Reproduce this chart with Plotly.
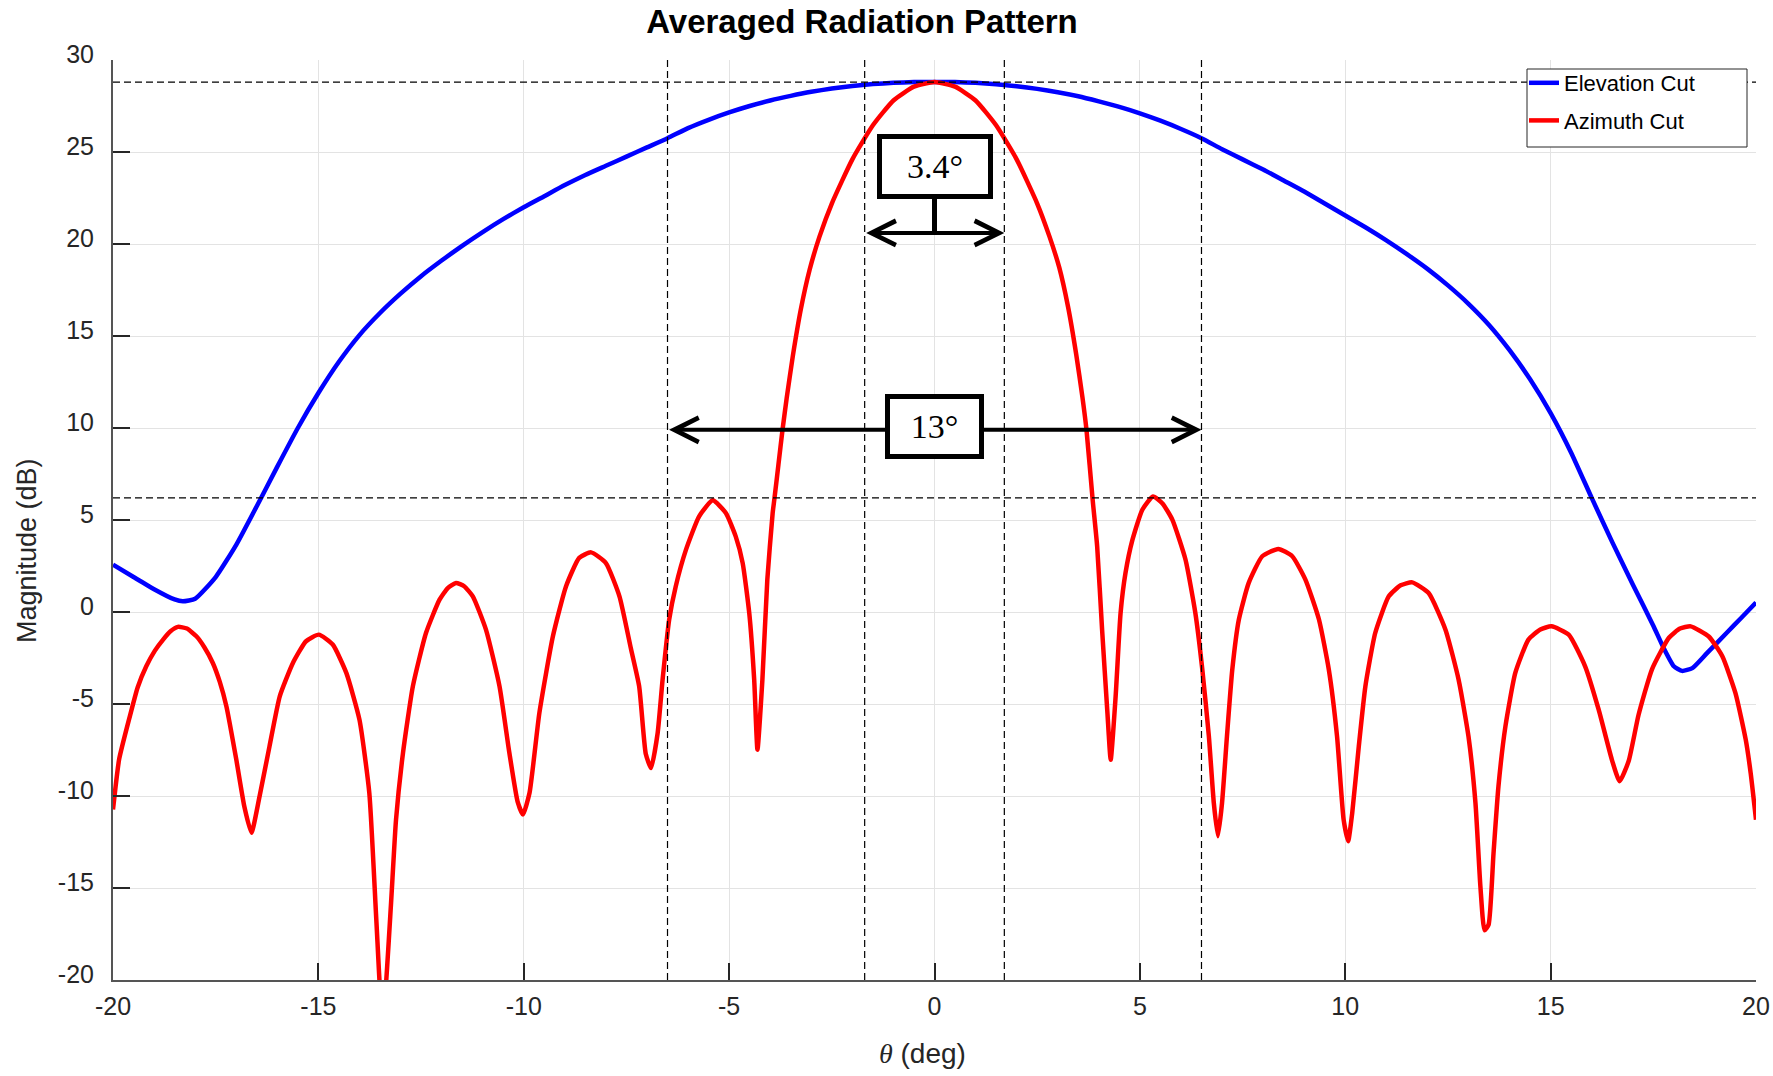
import plotly.graph_objects as go

# ---------------- data ----------------
theta_el = [-20.0, -19.5, -19.0, -18.5, -18.3, -18.0, -17.5, -17.0, -16.5, -16.0,
            -15.5, -15.0, -14.5, -14.0, -13.5, -13.0, -12.5, -12.0, -11.5, -11.0,
            -10.5, -10.0, -9.5, -9.0, -8.5, -8.0, -7.5, -7.0, -6.5, -6.0,
            -5.5, -5.0, -4.5, -4.0, -3.5, -3.0, -2.5, -2.0, -1.5, -1.0,
            -0.5, 0.0, 0.5, 1.0, 1.5, 2.0, 2.5, 3.0, 3.5, 4.0,
            4.5, 5.0, 5.5, 6.0, 6.5, 7.0, 7.5, 8.0, 8.5, 9.0,
            9.5, 10.0, 10.5, 11.0, 11.5, 12.0, 12.5, 13.0, 13.5, 14.0,
            14.5, 15.0, 15.5, 16.0, 16.5, 17.0, 17.5, 17.75, 18.0, 18.2,
            18.45, 18.8, 19.3, 19.65, 20.0]
mag_el = [2.57, 1.9, 1.24, 0.68, 0.58, 0.72, 1.9, 3.65, 5.75, 7.9,
          10.0, 11.9, 13.6, 15.05, 16.25, 17.3, 18.25, 19.1, 19.9, 20.65,
          21.35, 22.0, 22.6, 23.2, 23.75, 24.25, 24.75, 25.25, 25.75, 26.3,
          26.75, 27.15, 27.5, 27.8, 28.05, 28.27, 28.45, 28.59, 28.69, 28.76,
          28.8, 28.8, 28.8, 28.76, 28.68, 28.57, 28.43, 28.25, 28.03, 27.75,
          27.45, 27.1, 26.7, 26.25, 25.75, 25.15, 24.6, 24.05, 23.45, 22.85,
          22.2, 21.55, 20.9, 20.2, 19.45, 18.65, 17.75, 16.75, 15.6, 14.23,
          12.65, 10.81, 8.66, 6.2, 3.8, 1.5, -0.75, -1.95, -2.95, -3.2,
          -3.05, -2.25, -1.1, -0.3, 0.52]

theta_az = [-20.0, -19.85, -19.59, -19.4, -19.19, -18.98, -18.78, -18.6, -18.42, -18.2,
            -17.97, -17.78, -17.57, -17.4, -17.24, -17.0, -16.8, -16.63, -16.43, -16.19,
            -15.94, -15.62, -15.30, -14.99, -14.65, -14.32, -14.0, -13.76, -13.59, -13.45,
            -13.38, -13.23, -13.11, -12.94, -12.70, -12.38, -12.05, -11.85, -11.65, -11.45,
            -11.24, -10.92, -10.59, -10.35, -10.15, -10.02, -9.86, -9.62, -9.29, -8.97,
            -8.65, -8.36, -8.0, -7.67, -7.39, -7.19, -7.03, -6.90, -6.74, -6.62,
            -6.46, -6.30, -6.05, -5.73, -5.40, -5.08, -4.84, -4.67, -4.51, -4.39,
            -4.31, -4.19, -4.07, -3.94, -3.90, -3.80, -3.70, -3.60, -3.45, -3.25,
            -3.04, -2.8, -2.5, -2.0, -1.5, -1.0, -0.5, 0.0, 0.5, 1.0,
            1.5, 2.0, 2.5, 2.8, 3.04, 3.25, 3.45, 3.60, 3.70, 3.85,
            3.96, 4.08, 4.21, 4.29, 4.41, 4.53, 4.65, 4.82, 5.06, 5.32,
            5.55, 5.79, 6.11, 6.35, 6.52, 6.68, 6.80, 6.90, 7.0, 7.12,
            7.25, 7.41, 7.65, 7.98, 8.37, 8.71, 9.03, 9.36, 9.60, 9.80,
            9.96, 10.07, 10.17, 10.33, 10.49, 10.73, 11.06, 11.35, 11.63, 12.03,
            12.44, 12.76, 13.0, 13.17, 13.29, 13.39, 13.49, 13.61, 13.73, 13.90,
            14.14, 14.46, 14.75, 15.02, 15.44, 15.84, 16.17, 16.49, 16.68, 16.90,
            17.14, 17.47, 17.88, 18.15, 18.41, 18.85, 19.18, 19.5, 19.75, 19.87,
            20.0]
mag_az = [-10.74, -8.0, -5.67, -4.1, -2.95, -2.1, -1.5, -1.05, -0.81, -0.9,
          -1.32, -1.9, -2.77, -3.8, -5.12, -8.0, -10.6, -12.0, -10.0, -7.3,
          -4.58, -2.77, -1.59, -1.23, -1.77, -3.31, -5.85, -9.83, -16.7, -22.0,
          -21.0, -15.8, -11.3, -7.66, -4.04, -1.14, 0.67, 1.3, 1.58, 1.4,
          0.85, -0.96, -4.04, -7.66, -10.3, -11.01, -9.84, -5.49, -1.32, 1.4,
          2.94, 3.24, 2.66, 0.85, -2.0, -4.04, -7.7, -8.48, -6.58, -3.68,
          -0.42, 1.39, 3.39, 5.2, 6.07, 5.38, 4.11, 2.66, -0.06, -3.68,
          -7.48, -3.68, 1.76, 5.38, 6.11, 8.0, 9.9, 11.6, 13.9, 16.5,
          18.6, 20.4, 22.2, 24.6, 26.45, 27.8, 28.55, 28.8, 28.55, 27.8,
          26.45, 24.6, 22.2, 20.4, 18.7, 16.6, 14.0, 11.7, 9.9, 6.11,
          3.57, -0.96, -5.49, -8.03, -4.58, -0.06, 2.12, 3.93, 5.56, 6.28,
          5.9, 5.02, 2.85, -0.05, -3.13, -6.76, -10.38, -12.19, -10.38, -6.76,
          -3.13, -0.41, 1.58, 3.03, 3.43, 3.03, 1.76, -0.41, -3.13, -6.76,
          -11.28, -12.46, -10.92, -7.3, -4.04, -1.14, 0.85, 1.45, 1.61, 1.03,
          -0.96, -3.68, -6.76, -10.38, -14.91, -17.3, -16.99, -13.1, -9.47, -6.21,
          -3.31, -1.5, -0.95, -0.78, -1.23, -2.95, -5.31, -8.02, -9.2, -8.1,
          -5.6, -3.1, -1.4, -0.9, -0.78, -1.33, -2.41, -4.41, -6.94, -8.75,
          -11.29]

series_names = ["Elevation Cut", "Azimuth Cut"]
series_colors = ["#0000ff", "#ff0000"]

ref_levels_db = [28.8, 6.2]              # horizontal dashed reference lines
ref_angles_deg = [-6.5, -1.7, 1.7, 6.5]  # vertical dashed reference lines

bw_labels = ["3.4°", "13°"]
bw_left = [-1.7, -6.5]
bw_right = [1.7, 6.5]
bw_arrow_db = [20.6, 9.9]
bw_box_db = [24.2, 10.1]
bw_box_w = [106, 89]
stem_top_db = 22.6

x_ticks = [-20, -15, -10, -5, 0, 5, 10, 15, 20]
y_ticks = [-20, -15, -10, -5, 0, 5, 10, 15, 20, 25, 30]

FONT = "Liberation Sans, Arial, Helvetica, sans-serif"
SERIF = "Liberation Serif, Times New Roman, serif"

# plot-area geometry in pixels (for paper-coordinate placement)
L, R, T, B = 113, 1756, 60, 980
PW, PH = R - L, B - T


def px(x):
    return (x - L) / PW


def py(y):
    return (B - y) / PH


fig = go.Figure()
for i, (xs, ys) in enumerate([(theta_el, mag_el), (theta_az, mag_az)]):
    fig.add_trace(go.Scatter(
        x=xs, y=ys, mode="lines", name=series_names[i],
        legendgroup=series_names[i],
        line=dict(color=series_colors[i], width=4.5, shape="spline", smoothing=0.5),
    ))

shapes = []
for lv in ref_levels_db:
    shapes.append(dict(type="line", xref="x domain", yref="y", x0=0, x1=1, y0=lv, y1=lv,
                       line=dict(color="black", width=1.2, dash="7px,4px"), layer="above"))
for a in ref_angles_deg:
    shapes.append(dict(type="line", xref="x", yref="y domain", x0=a, x1=a, y0=0, y1=1,
                       line=dict(color="black", width=1.2, dash="7px,4px"), layer="above"))
# stem from 3.4 deg box to its arrow
shapes.append(dict(type="line", xref="x", yref="y", x0=0, x1=0, y0=bw_arrow_db[0], y1=stem_top_db,
                   line=dict(color="black", width=5), layer="above"))
# legend frame
shapes.append(dict(type="rect", xref="paper", yref="paper",
                   x0=px(1527), x1=px(1747), y0=py(147), y1=py(69),
                   line=dict(color="#262626", width=1), fillcolor="white", layer="above"))

annotations = []
for i in range(2):
    annotations.append(dict(
        x=bw_right[i], y=bw_arrow_db[i], ax=bw_left[i], ay=bw_arrow_db[i],
        xref="x", yref="y", axref="x", ayref="y", text="",
        showarrow=True, arrowhead=5, arrowside="end+start", arrowsize=1.2,
        arrowwidth=4, arrowcolor="black", standoff=0, startstandoff=0,
    ))
for i in range(2):
    annotations.append(dict(
        x=(bw_left[i] + bw_right[i]) / 2, y=bw_box_db[i], xref="x", yref="y",
        text=bw_labels[i], showarrow=False, xanchor="center", yanchor="middle",
        font=dict(family=SERIF, size=34, color="black"),
        bgcolor="white", bordercolor="black", borderwidth=5, borderpad=0,
        width=bw_box_w[i], height=55,
    ))
# axis titles
annotations.append(dict(
    x=px(922), y=py(1053), xref="paper", yref="paper", showarrow=False,
    xanchor="center", yanchor="middle",
    text="<span style=\"font-family:'Liberation Serif'\"><i>θ</i></span> (deg)",
    font=dict(family=FONT, size=28, color="#262626"),
))
annotations.append(dict(
    x=px(27), y=py(551), xref="paper", yref="paper", showarrow=False,
    xanchor="center", yanchor="middle", textangle=-90,
    text="Magnitude (dB)",
    font=dict(family=FONT, size=27, color="#262626"),
))

fig.update_layout(
    width=1773, height=1076, autosize=False,
    margin=dict(l=L, r=1773 - R, t=T, b=1076 - B, autoexpand=False),
    paper_bgcolor="white", plot_bgcolor="white",
    font=dict(family=FONT, color="#262626"),
    title=dict(text="<b>Averaged Radiation Pattern</b>", x=862 / 1773, xref="container",
               xanchor="center", y=1 - 21 / 1076, yanchor="middle",
               font=dict(family=FONT, size=33, color="black")),
    shapes=shapes, annotations=annotations,
    showlegend=True,
    legend=dict(x=px(1524), y=py(62), xanchor="left", yanchor="top",
                bgcolor="rgba(0,0,0,0)", borderwidth=0,
                font=dict(family=FONT, size=22, color="black"),
                tracegroupgap=6, itemwidth=30),
)
fig.update_xaxes(
    range=[-20, 20], tickvals=x_ticks, ticktext=[str(v) for v in x_ticks],
    showgrid=True, gridcolor="#e3e3e3", gridwidth=1, zeroline=False,
    showline=True, linecolor="#555555", linewidth=2,
    ticks="inside", ticklen=17, tickwidth=1.5, tickcolor="#262626",
    tickfont=dict(family=FONT, size=25, color="#262626"),
    ticklabelstandoff=3, automargin=False,
)
fig.update_yaxes(
    range=[-20, 30], tickvals=y_ticks, ticktext=[str(v) for v in y_ticks],
    showgrid=True, gridcolor="#e3e3e3", gridwidth=1, zeroline=False,
    showline=True, linecolor="#555555", linewidth=2,
    ticks="inside", ticklen=17, tickwidth=1.5, tickcolor="#262626",
    tickfont=dict(family=FONT, size=25, color="#262626"),
    ticklabelshift=-6, ticklabelstandoff=12, automargin=False,
)

fig.write_html("out.html")
